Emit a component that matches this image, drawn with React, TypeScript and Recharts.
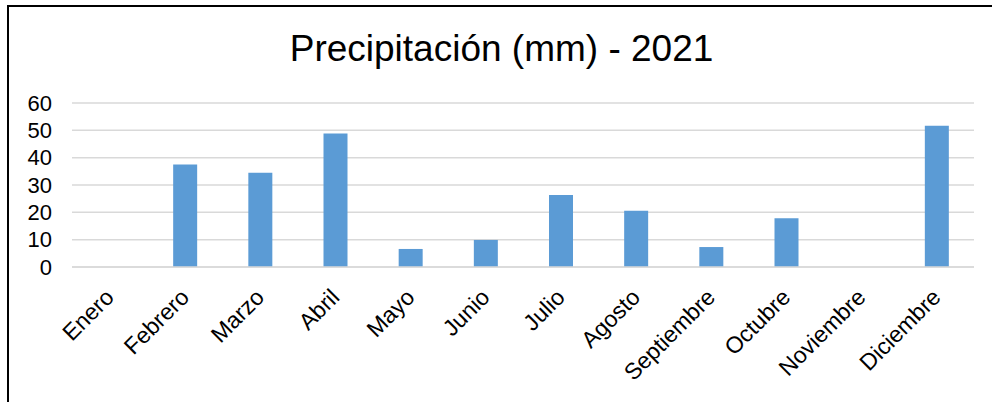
import { BarChart, Bar, XAxis, YAxis, CartesianGrid } from "recharts";

// Monthly precipitation, mm
const months = [
    "Enero", "Febrero", "Marzo", "Abril", "Mayo", "Junio",
    "Julio", "Agosto", "Septiembre", "Octubre", "Noviembre", "Diciembre",
];
const rainfall = [0, 37.5, 34.5, 48.8, 6.6, 9.9, 26.3, 20.6, 7.3, 17.8, 0, 51.7];
const yTicks = [0, 10, 20, 30, 40, 50, 60];

const FONT = '"Liberation Sans", Arial, sans-serif';

const data = months.map((m, i) => ({ month: m, mm: rainfall[i] }));

// Slanted month labels, right end pinned to the category centre
const MonthTick = ({ x, y, payload }: any) => (
    <g transform={`translate(${x},${y + 18})`}>
        <text
            x={0}
            y={0}
            dy="0.35em"
            textAnchor="end"
            transform="rotate(-45)"
            fill="#000"
            fontSize={23}
            fontFamily={FONT}
        >
            {payload.value}
        </text>
    </g>
);

const App = () => {
    return (
        <div
            style={{
                position: "absolute",
                left: 0,
                top: 0,
                width: 992,
                height: 402,
                overflow: "hidden",
                background: "#fff",
            }}
        >
            <div
                style={{
                    position: "absolute",
                    left: 7,
                    top: 5,
                    width: 992,
                    height: 402,
                    borderLeft: "2px solid #000",
                    borderTop: "2px solid #000",
                }}
            />
            <div
                style={{
                    position: "absolute",
                    left: 0,
                    top: 30,
                    width: 1003,
                    textAlign: "center",
                    fontFamily: FONT,
                    fontSize: 37,
                    lineHeight: "37px",
                    color: "#000",
                }}
            >
                Precipitación (mm) - 2021
            </div>
            <div style={{ position: "absolute", left: 0, top: 0 }}>
                <BarChart
                    width={992}
                    height={402}
                    data={data}
                    margin={{ top: 103, right: 18, left: 0, bottom: 0 }}
                >
                    <CartesianGrid vertical={false} stroke="#d9d9d9" strokeWidth={1.5} />
                    <XAxis
                        dataKey="month"
                        interval={0}
                        height={135}
                        tickLine={false}
                        axisLine={{ stroke: "#d9d9d9", strokeWidth: 1.5 }}
                        tick={<MonthTick />}
                    />
                    <YAxis
                        width={72}
                        domain={[0, 60]}
                        ticks={yTicks}
                        interval={0}
                        tickLine={false}
                        axisLine={false}
                        tickSize={0}
                        tickMargin={20}
                        tick={{ fill: "#000", fontSize: 22, fontFamily: FONT }}
                    />
                    <Bar dataKey="mm" fill="#5b9bd5" barSize={24} isAnimationActive={false} />
                </BarChart>
            </div>
        </div>
    );
};

export default App;
